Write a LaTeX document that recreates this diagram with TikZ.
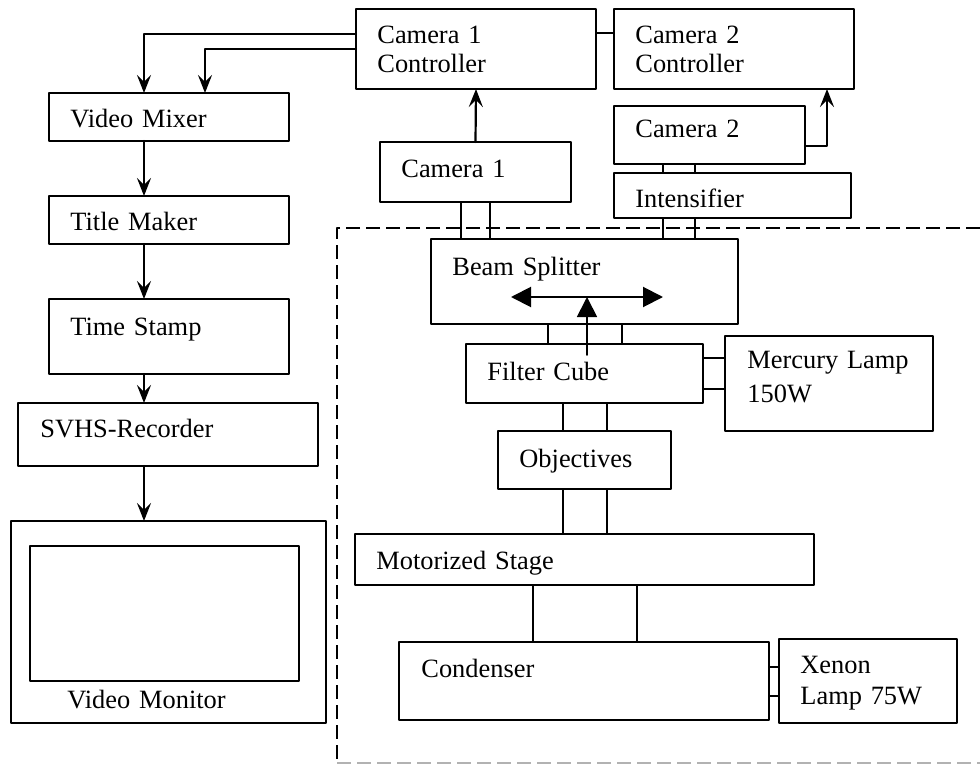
\documentclass[tikz,border=0pt]{standalone}
\usepackage{fontspec}
\setmainfont{Liberation Serif}
\usetikzlibrary{arrows.meta}
\begin{document}
\begin{tikzpicture}[x=0.5pt,y=-0.5pt,line join=round,line cap=round,
  >={Stealth[length=9pt,width=7pt,inset=3.5pt]},
  box/.style={draw,line width=1pt,inner sep=0pt,outer sep=0pt},
  txt/.style={font=\fontsize{13.2}{14.5}\selectfont,inner sep=0pt,anchor=base west,text width=120pt,align=left},
  flow/.style={->,line width=1.1pt},
  link/.style={line width=0.9pt},
  tri/.tip={Triangle[length=10pt,width=10pt]},
  frame/.style={line width=1pt,line cap=butt,dash pattern=on 7pt off 3pt}]
\useasboundingbox (0,0) rectangle (980,765);
\foreach \n/\xa/\ya/\xb/\yb in {vmix/49/93/289/141,title/49/196/289/244,stamp/49/299/289/374,
  svhs/18/403/318/466,mon/11/521/326/723,screen/30/546/299/681,
  ctrl1/356/9/596/89,ctrl2/614/9/854/89,cam1/380/142/571/202,cam2/614/106/805/164,
  intens/614/173/851/218,split/431/239/738/324,cube/466/344/703/403,merc/725/336/933/431,
  obj/498/431/671/489,stage/355/534/814/585,cond/399/642/769/720,xenon/779/639/957/723}
  \node[box,minimum width={(\xb-\xa)*0.5pt},minimum height={(\yb-\ya)*0.5pt}] (\n) at ({(\xa+\xb)/2},{(\ya+\yb)/2}) {};
\foreach \n/\dx/\dy/\t in {vmix/21/34/Video Mixer,title/21/34/Title Maker,stamp/21/36/Time Stamp,
  svhs/22/34/SVHS-Recorder,mon/56/187/Video Monitor,ctrl1/21/35/{Camera 1\\Controller},
  ctrl2/21/35/{Camera 2\\Controller},cam1/21/35/Camera 1,cam2/21/32/Camera 2,intens/21/34/Intensifier,
  split/21/36/Beam Splitter,cube/21/36/Filter Cube,merc/22/32/{Mercury Lamp\\[2.5pt]150W},
  obj/21/36/Objectives,stage/21/35/Motorized Stage,cond/22/35/Condenser,xenon/21/34/{Xenon\\[1pt]Lamp 75W}}
  \node[txt] (\n-t) at ([shift={(\dx,\dy)}]\n.north west) {\t};
\coordinate (tap1) at (144,34);
\coordinate (tap2) at (205,49);
\coordinate (tap3) at (827,146);
\draw[flow] (ctrl1.west |- tap1) -- (tap1) -- (vmix.north -| tap1);
\draw[flow] (ctrl1.west |- tap2) -- (tap2) -- (vmix.north -| tap2);
\foreach \a/\b in {vmix/title,title/stamp,stamp/svhs,svhs/mon}
  \draw[flow] (\a.south -| tap1) -- (\b.north -| tap1);
\draw[flow] (cam1.north) -- (ctrl1.south);
\draw[flow] (cam2.east |- tap3) -- (tap3) -- (ctrl2.south -| tap3);
\draw[link] (ctrl1.east |- 0,33) -- (ctrl2.west |- 0,33);
\foreach \a/\b/\u/\v in {cam1/split/461/490,cam2/intens/663/695,intens/split/663/695,split/cube/548/622,
  cube/obj/563/607,obj/stage/563/607,stage/cond/533/637}
  \draw[link] (\a.south -| \u,0) -- (\b.north -| \u,0) (\a.south -| \v,0) -- (\b.north -| \v,0);
\foreach \a/\b/\u/\v in {cube/merc/358/389,cond/xenon/667/696}
  \draw[link] (\a.east |- 0,\u) -- (\b.west |- 0,\u) (\a.east |- 0,\v) -- (\b.west |- 0,\v);
\coordinate (bc) at (587,297);
\draw[line width=1pt,tri-tri] (split.west |- bc) ++(80,0) -- ++(152,0);
\draw[line width=0.9pt,-tri] (cube.north -| bc) ++(0,11) -- (bc);
\draw[frame] (980,228) -- (337,228) -- (337,763);
\draw[frame,gray!60,line width=0.8pt] (337,763) -- (980,763);
\end{tikzpicture}
\end{document}
